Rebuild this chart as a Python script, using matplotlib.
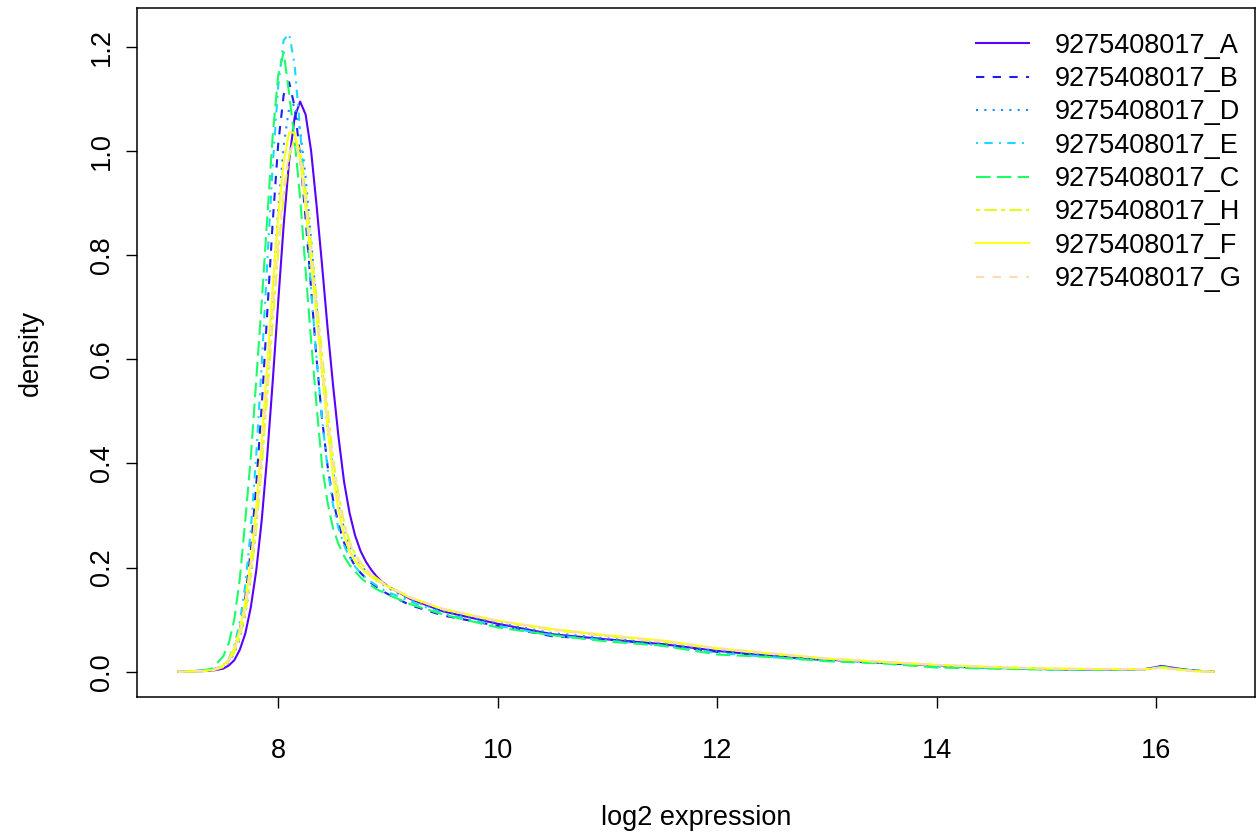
import numpy as np
import matplotlib
matplotlib.use("Agg")
import matplotlib.pyplot as plt

plt.rcParams['font.family'] = ['Liberation Sans', 'DejaVu Sans']

# shared grid of log2 expression values
xs = [7.09, 7.3, 7.4, 7.5, 7.55, 7.6, 7.65, 7.7, 7.75, 7.8, 7.85, 7.9, 7.95,
      8.0, 8.05, 8.1, 8.15, 8.2, 8.25, 8.3, 8.35, 8.4, 8.45, 8.5, 8.55, 8.6,
      8.65, 8.7, 8.75, 8.8, 8.85, 8.9, 8.95, 9.0,
      9.2, 9.5, 10.0, 10.5, 11.0, 11.5, 12.0, 12.5, 13.0, 13.5, 14.0, 14.5,
      15.0, 15.5, 15.9, 16.05, 16.2, 16.35, 16.52]

dens_A = [0.0, 0.001, 0.002, 0.006, 0.012, 0.022, 0.042, 0.073, 0.123, 0.194,
          0.291, 0.414, 0.557, 0.710, 0.858, 0.982, 1.065, 1.095, 1.070, 1.0,
          0.895, 0.78, 0.66, 0.55, 0.45, 0.365, 0.305, 0.262, 0.232, 0.211,
          0.195, 0.182, 0.172, 0.164,
          0.14, 0.116, 0.092, 0.072, 0.062, 0.053, 0.04, 0.03, 0.023, 0.018,
          0.012, 0.008, 0.005, 0.004, 0.005, 0.011, 0.006, 0.002, 0.0]
dens_B = [0.0, 0.002, 0.004, 0.011, 0.022, 0.043, 0.08, 0.142, 0.232, 0.358,
          0.51, 0.688, 0.863, 1.013, 1.108, 1.132, 1.085, 0.99, 0.87, 0.735,
          0.6, 0.485, 0.395, 0.33, 0.283, 0.248, 0.222, 0.203, 0.19, 0.179,
          0.17, 0.162, 0.155, 0.149,
          0.128, 0.108, 0.088, 0.068, 0.062, 0.052, 0.038, 0.03, 0.022, 0.017,
          0.011, 0.007, 0.005, 0.004, 0.005, 0.01, 0.005, 0.002, 0.0]
dens_D = [0.0, 0.001, 0.003, 0.009, 0.018, 0.035, 0.063, 0.11, 0.18, 0.281,
          0.411, 0.565, 0.73, 0.887, 1.01, 1.083, 1.09, 1.04, 0.95, 0.83,
          0.70, 0.575, 0.47, 0.385, 0.32, 0.275, 0.243, 0.222, 0.205, 0.193,
          0.183, 0.175, 0.168, 0.161,
          0.138, 0.116, 0.094, 0.074, 0.064, 0.054, 0.04, 0.031, 0.023, 0.018,
          0.012, 0.008, 0.005, 0.004, 0.005, 0.01, 0.005, 0.002, 0.0]
dens_E = [0.0, 0.002, 0.003, 0.012, 0.025, 0.05, 0.095, 0.166, 0.272, 0.415,
          0.59, 0.784, 0.972, 1.124, 1.213, 1.225, 1.165, 1.04, 0.90, 0.735,
          0.60, 0.485, 0.39, 0.32, 0.275, 0.243, 0.22, 0.202, 0.19, 0.18,
          0.172, 0.165, 0.158, 0.153,
          0.135, 0.112, 0.088, 0.07, 0.06, 0.05, 0.036, 0.028, 0.021, 0.017,
          0.01, 0.007, 0.004, 0.004, 0.005, 0.01, 0.005, 0.002, 0.0]
dens_C = [0.0, 0.002, 0.006, 0.03, 0.055, 0.10, 0.178, 0.29, 0.41, 0.56,
          0.71, 0.87, 1.03, 1.145, 1.19, 1.11, 1.02, 0.91, 0.77, 0.635,
          0.51, 0.395, 0.325, 0.275, 0.245, 0.222, 0.205, 0.193, 0.181, 0.172,
          0.165, 0.158, 0.153, 0.148,
          0.13, 0.11, 0.085, 0.07, 0.058, 0.05, 0.033, 0.028, 0.02, 0.016,
          0.008, 0.006, 0.004, 0.004, 0.005, 0.009, 0.005, 0.002, 0.0]
dens_H = [0.0, 0.001, 0.002, 0.009, 0.019, 0.037, 0.066, 0.113, 0.182, 0.276,
          0.394, 0.53, 0.67, 0.805, 0.915, 0.99, 1.025, 1.0, 0.925, 0.82,
          0.715, 0.61, 0.505, 0.41, 0.34, 0.287, 0.25, 0.226, 0.21, 0.197,
          0.187, 0.179, 0.172, 0.165,
          0.143, 0.12, 0.097, 0.08, 0.068, 0.058, 0.044, 0.034, 0.025, 0.019,
          0.013, 0.009, 0.006, 0.005, 0.005, 0.008, 0.004, 0.001, 0.0]
dens_F = [0.0, 0.001, 0.003, 0.012, 0.024, 0.046, 0.08, 0.134, 0.212, 0.315,
          0.442, 0.588, 0.737, 0.874, 0.978, 1.036, 1.035, 0.985, 0.895, 0.785,
          0.68, 0.575, 0.47, 0.375, 0.31, 0.262, 0.232, 0.213, 0.2, 0.19,
          0.182, 0.175, 0.169, 0.163,
          0.142, 0.12, 0.098, 0.082, 0.07, 0.06, 0.045, 0.035, 0.025, 0.019,
          0.013, 0.009, 0.006, 0.005, 0.005, 0.008, 0.004, 0.001, 0.0]
dens_G = [0.0, 0.001, 0.003, 0.011, 0.022, 0.042, 0.073, 0.122, 0.195, 0.293,
          0.414, 0.553, 0.695, 0.825, 0.93, 0.997, 1.018, 0.985, 0.905, 0.8,
          0.695, 0.59, 0.49, 0.40, 0.332, 0.282, 0.247, 0.224, 0.208, 0.196,
          0.186, 0.178, 0.171, 0.164,
          0.143, 0.121, 0.098, 0.081, 0.069, 0.059, 0.045, 0.035, 0.025, 0.019,
          0.013, 0.009, 0.006, 0.005, 0.005, 0.008, 0.004, 0.001, 0.0]

samples = ['9275408017_A', '9275408017_B', '9275408017_D', '9275408017_E',
           '9275408017_C', '9275408017_H', '9275408017_F', '9275408017_G']
series = [dens_A, dens_B, dens_D, dens_E, dens_C, dens_H, dens_F, dens_G]

colors = ['#5a00ff', '#1e1eee', '#1a8cff', '#1ad9ff', '#1aff66', '#e0ff1a',
          '#ffff1a', '#ffdcb0']
# R lty 1..6 then repeat
dashes = [None, (4, 4), (1, 3), (1, 3, 4, 3), (7, 3), (2, 2, 6, 2), None, (4, 4)]

fig = plt.figure(figsize=(12.56, 8.34), dpi=100)
ax = fig.add_axes([0.109, 0.164, 0.890, 0.826])

for y, lab, c, d in zip(series, samples, colors, dashes):
    line, = ax.plot(xs, y, color=c, lw=1.5, label=lab)
    if d is not None:
        line.set_dashes(d)

# R style limits: data range + 4%
xr = max(xs) - min(xs)
ax.set_xlim(min(xs) - 0.04 * xr, max(xs) + 0.04 * xr)
ymax = max(max(s) for s in series)
ax.set_ylim(-0.04 * ymax, ymax * 1.04)

fs = 19.5
ax.set_xticks([8, 10, 12, 14, 16])
ax.set_yticks([0.0, 0.2, 0.4, 0.6, 0.8, 1.0, 1.2])
ax.set_yticklabels(['%.1f' % v for v in ax.get_yticks()], rotation=90, va='center')
ax.tick_params(labelsize=fs, length=8, width=1, direction='out')
ax.tick_params(axis='x', pad=21)
ax.tick_params(axis='y', pad=8)
for sp in ax.spines.values():
    sp.set_linewidth(1.1)

ax.set_xlabel('log2 expression', fontsize=fs, labelpad=30)
ax.set_ylabel('density', fontsize=fs, labelpad=32)

ax.legend(loc='upper right', bbox_to_anchor=(1.005, 0.992), frameon=False,
          fontsize=fs, handlelength=1.95, handletextpad=0.93,
          labelspacing=0.27, borderaxespad=0.3)

fig.savefig('out.png', dpi=100)
